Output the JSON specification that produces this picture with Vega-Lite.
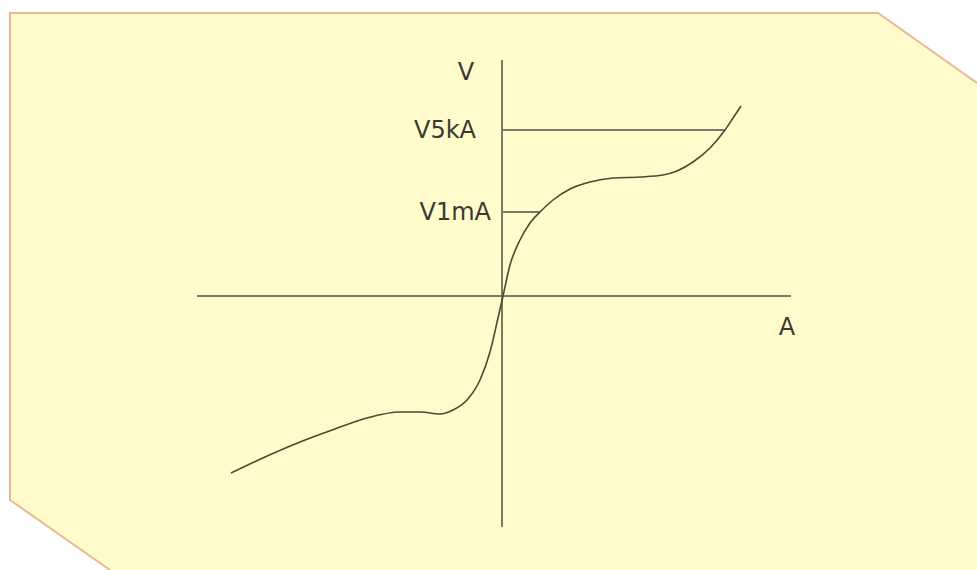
{
  "$schema": "https://vega.github.io/schema/vega-lite/v6.json",
  "width": 977,
  "height": 570,
  "padding": 0,
  "autosize": {"type": "none"},
  "background": "white",
  "config": {"view": {"stroke": null}},
  "datasets": {
    "panel": [
      {"x": 10, "top": 13, "bottom": 500},
      {"x": 110, "top": 13, "bottom": 570},
      {"x": 878, "top": 13, "bottom": 570},
      {"x": 977, "top": 83, "bottom": 570}
    ],
    "border": [
      {"i": 1, "x": 977, "y": 83},
      {"i": 2, "x": 878, "y": 13},
      {"i": 3, "x": 10, "y": 13},
      {"i": 4, "x": 10, "y": 500},
      {"i": 5, "x": 110, "y": 570}
    ],
    "lines": [
      {"name": "I axis", "x": 197, "y": 296, "x2": 791, "y2": 296, "w": 2.2},
      {"name": "V axis", "x": 502, "y": 60, "x2": 502, "y2": 527, "w": 2},
      {"name": "V5kA", "x": 502, "y": 130, "x2": 725, "y2": 130, "w": 2},
      {"name": "V1mA", "x": 502, "y": 212, "x2": 540, "y2": 212, "w": 2}
    ],
    "curve": [
      {"i": 1, "x": 231, "y": 473},
      {"i": 2, "x": 265, "y": 457},
      {"i": 3, "x": 300, "y": 442},
      {"i": 4, "x": 335, "y": 429},
      {"i": 5, "x": 367, "y": 418},
      {"i": 6, "x": 400, "y": 412},
      {"i": 7, "x": 420, "y": 412},
      {"i": 8, "x": 440, "y": 414},
      {"i": 9, "x": 453, "y": 410},
      {"i": 10, "x": 467, "y": 400},
      {"i": 11, "x": 480, "y": 380},
      {"i": 12, "x": 490, "y": 352},
      {"i": 13, "x": 498, "y": 318},
      {"i": 14, "x": 503, "y": 296},
      {"i": 15, "x": 510, "y": 265},
      {"i": 16, "x": 520, "y": 240},
      {"i": 17, "x": 530, "y": 223},
      {"i": 18, "x": 540, "y": 212},
      {"i": 19, "x": 553, "y": 200},
      {"i": 20, "x": 570, "y": 189},
      {"i": 21, "x": 590, "y": 182},
      {"i": 22, "x": 613, "y": 178},
      {"i": 23, "x": 640, "y": 177},
      {"i": 24, "x": 663, "y": 175},
      {"i": 25, "x": 677, "y": 171},
      {"i": 26, "x": 693, "y": 162},
      {"i": 27, "x": 710, "y": 148},
      {"i": 28, "x": 725, "y": 130},
      {"i": 29, "x": 733, "y": 118},
      {"i": 30, "x": 741, "y": 106}
    ],
    "labels": [
      {"text": "V", "x": 466, "y": 73, "align": "center"},
      {"text": "V5kA", "x": 476, "y": 131, "align": "right"},
      {"text": "V1mA", "x": 491, "y": 213, "align": "right"},
      {"text": "A", "x": 787, "y": 328, "align": "center"}
    ]
  },
  "layer": [
    {
      "data": {"name": "panel"},
      "mark": {"type": "area", "color": "#fffbcb", "opacity": 1},
      "encoding": {
        "x": {"field": "x", "type": "quantitative", "scale": {"domain": [0, 977], "nice": false, "zero": false}, "axis": null},
        "y": {"field": "top", "type": "quantitative", "scale": {"domain": [570, 0], "nice": false, "zero": false}, "axis": null},
        "y2": {"field": "bottom"}
      }
    },
    {
      "data": {"name": "border"},
      "mark": {"type": "line", "color": "#e9b896", "strokeWidth": 2},
      "encoding": {
        "x": {"field": "x", "type": "quantitative"},
        "y": {"field": "y", "type": "quantitative"},
        "order": {"field": "i", "type": "quantitative"}
      }
    },
    {
      "data": {"name": "lines"},
      "mark": {"type": "rule", "color": "#7a7866"},
      "encoding": {
        "x": {"field": "x", "type": "quantitative"},
        "y": {"field": "y", "type": "quantitative"},
        "x2": {"field": "x2"},
        "y2": {"field": "y2"},
        "strokeWidth": {"field": "w", "type": "quantitative", "scale": null}
      }
    },
    {
      "data": {"name": "curve"},
      "mark": {"type": "line", "color": "#4b4a30", "strokeWidth": 1.6, "interpolate": "monotone"},
      "encoding": {
        "x": {"field": "x", "type": "quantitative"},
        "y": {"field": "y", "type": "quantitative"},
        "order": {"field": "i", "type": "quantitative"}
      }
    },
    {
      "data": {"name": "labels"},
      "transform": [{"filter": "datum.align == 'right'"}],
      "mark": {"type": "text", "font": "DejaVu Sans", "fontSize": 24, "color": "#3a3a32", "align": "right", "baseline": "middle"},
      "encoding": {
        "x": {"field": "x", "type": "quantitative"},
        "y": {"field": "y", "type": "quantitative"},
        "text": {"field": "text"}
      }
    },
    {
      "data": {"name": "labels"},
      "transform": [{"filter": "datum.align == 'center'"}],
      "mark": {"type": "text", "font": "DejaVu Sans", "fontSize": 24, "color": "#3a3a32", "align": "center", "baseline": "middle"},
      "encoding": {
        "x": {"field": "x", "type": "quantitative"},
        "y": {"field": "y", "type": "quantitative"},
        "text": {"field": "text"}
      }
    }
  ]
}
